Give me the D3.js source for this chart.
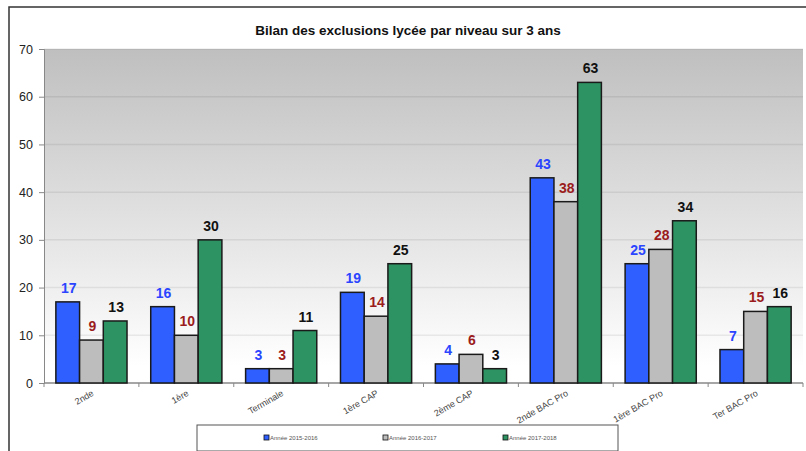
<!DOCTYPE html>
<html>
<head>
<meta charset="utf-8">
<script src="https://cdn.jsdelivr.net/npm/d3@7"></script>
<style>
  body { margin: 0; background: #fff; }
  text { font-family: Arial, "Liberation Sans", sans-serif; }
</style>
</head>
<body>
<div id="chart"></div>
<script>
// niveaux (categories)
var niveaux = ["2nde", "1ère", "Terminale", "1ère CAP", "2ème CAP", "2nde BAC Pro", "1ère BAC Pro", "Ter BAC Pro"];
// one array per school year
var annee2015 = [17, 16, 3, 19, 4, 43, 25, 7];
var annee2016 = [9, 10, 3, 14, 6, 38, 28, 15];
var annee2017 = [13, 30, 11, 25, 3, 63, 34, 16];
var seriesNames = ["Année 2015-2016", "Année 2016-2017", "Année 2017-2018"];
var yTicks = [0, 10, 20, 30, 40, 50, 60, 70];

var series = [annee2015, annee2016, annee2017];
var fills = ["#2f5fff", "#bdbdbd", "#2e9362"];
var labelColors = ["#2b45ff", "#9b1c1c", "#111"];

var W = 806, H = 451;
var svg = d3.select("#chart").append("svg").attr("width", W).attr("height", H);

// outer frame
svg.append("rect").attr("x", 9).attr("y", 7).attr("width", 820).attr("height", 470)
  .attr("fill", "none").attr("stroke", "#333").attr("stroke-width", 1.5);

// plot area bounds (not "top": that name is taken by window.top)
var pLeft = 44, pRight = 803, pTop = 49, pBottom = 383;

var x = d3.scaleBand().domain(niveaux).range([pLeft, pRight]).paddingInner(0.25).paddingOuter(0.125);
var xs = d3.scaleBand().domain([0, 1, 2]).range([0, x.bandwidth()]);
var y = d3.scaleLinear().domain([0, 70]).range([pBottom, pTop]);

// background gradient
var defs = svg.append("defs");
var grad = defs.append("linearGradient").attr("id", "bg").attr("x1", 0).attr("y1", 0).attr("x2", 0).attr("y2", 1);
grad.append("stop").attr("offset", "0%").attr("stop-color", "#bfbfbf");
grad.append("stop").attr("offset", "95%").attr("stop-color", "#ffffff");
svg.append("rect").attr("x", pLeft).attr("y", pTop).attr("width", pRight - pLeft).attr("height", pBottom - pTop)
  .attr("fill", "url(#bg)");

// gridlines
svg.append("g").selectAll("line").data(yTicks.slice(1)).join("line")
  .attr("x1", pLeft).attr("x2", pRight)
  .attr("y1", function (d) { return y(d); }).attr("y2", function (d) { return y(d); })
  .attr("stroke", "rgba(0,0,0,0.07)").attr("stroke-width", 1.5);

// title
svg.append("text").attr("x", 408).attr("y", 35).attr("text-anchor", "middle")
  .style("font-size", "13.5px").style("font-weight", "bold").attr("fill", "#111")
  .text("Bilan des exclusions lycée par niveau sur 3 ans");

// y axis
var yAxis = svg.append("g").attr("transform", "translate(" + pLeft + ",0)")
  .call(d3.axisLeft(y).tickValues(yTicks).tickSize(5).tickPadding(6));
yAxis.select(".domain").attr("stroke", "#888");
yAxis.selectAll(".tick line").attr("stroke", "#888");
yAxis.selectAll("text").style("font-size", "12.5px").attr("fill", "#222")
  .style("font-family", "Arial, 'Liberation Sans', sans-serif");

// x axis line and ticks at category boundaries
var step = x.step();
svg.append("line").attr("x1", pLeft).attr("x2", pRight).attr("y1", pBottom).attr("y2", pBottom)
  .attr("stroke", "#888").attr("stroke-width", 1.5);
svg.append("g").selectAll("line").data(d3.range(niveaux.length + 1)).join("line")
  .attr("x1", function (i) { return pLeft + i * step; }).attr("x2", function (i) { return pLeft + i * step; })
  .attr("y1", pBottom).attr("y2", pBottom + 4).attr("stroke", "#888");

// x labels, rotated
svg.append("g").selectAll("text").data(niveaux).join("text")
  .attr("text-anchor", "end")
  .attr("transform", function (d) {
    return "translate(" + (x(d) + x.bandwidth() / 2 + 3) + "," + (pBottom + 12) + ") rotate(-30)";
  })
  .style("font-size", "9px").attr("fill", "#444")
  .text(function (d) { return d; });

// bars
series.forEach(function (vals, s) {
  var g = svg.append("g");
  g.selectAll("rect").data(vals).join("rect")
    .attr("x", function (d, i) { return x(niveaux[i]) + xs(s); })
    .attr("width", xs.bandwidth())
    .attr("y", function (d) { return y(d); })
    .attr("height", function (d) { return pBottom - y(d); })
    .attr("fill", fills[s]).attr("stroke", "#1a1a1a").attr("stroke-width", 1.5);
  g.selectAll("text").data(vals).join("text")
    .attr("x", function (d, i) { return x(niveaux[i]) + xs(s) + xs.bandwidth() / 2 + 1; })
    .attr("y", function (d) { return y(d) - 9; })
    .attr("text-anchor", "middle")
    .style("font-size", "14px").style("font-weight", "bold")
    .attr("fill", labelColors[s])
    .text(function (d) { return d; });
});

// legend
svg.append("rect").attr("x", 197).attr("y", 425).attr("width", 421).attr("height", 26)
  .attr("fill", "#fff").attr("stroke", "#555").attr("stroke-width", 1);
var legX = [264, 383, 503];
seriesNames.forEach(function (n, i) {
  svg.append("rect").attr("x", legX[i]).attr("y", 435).attr("width", 5).attr("height", 5)
    .attr("fill", fills[i]).attr("stroke", "#111").attr("stroke-width", 0.8);
  svg.append("text").attr("x", legX[i] + 6).attr("y", 440)
    .style("font-size", "6px").attr("fill", "#555").text(n);
});
</script>
</body>
</html>
